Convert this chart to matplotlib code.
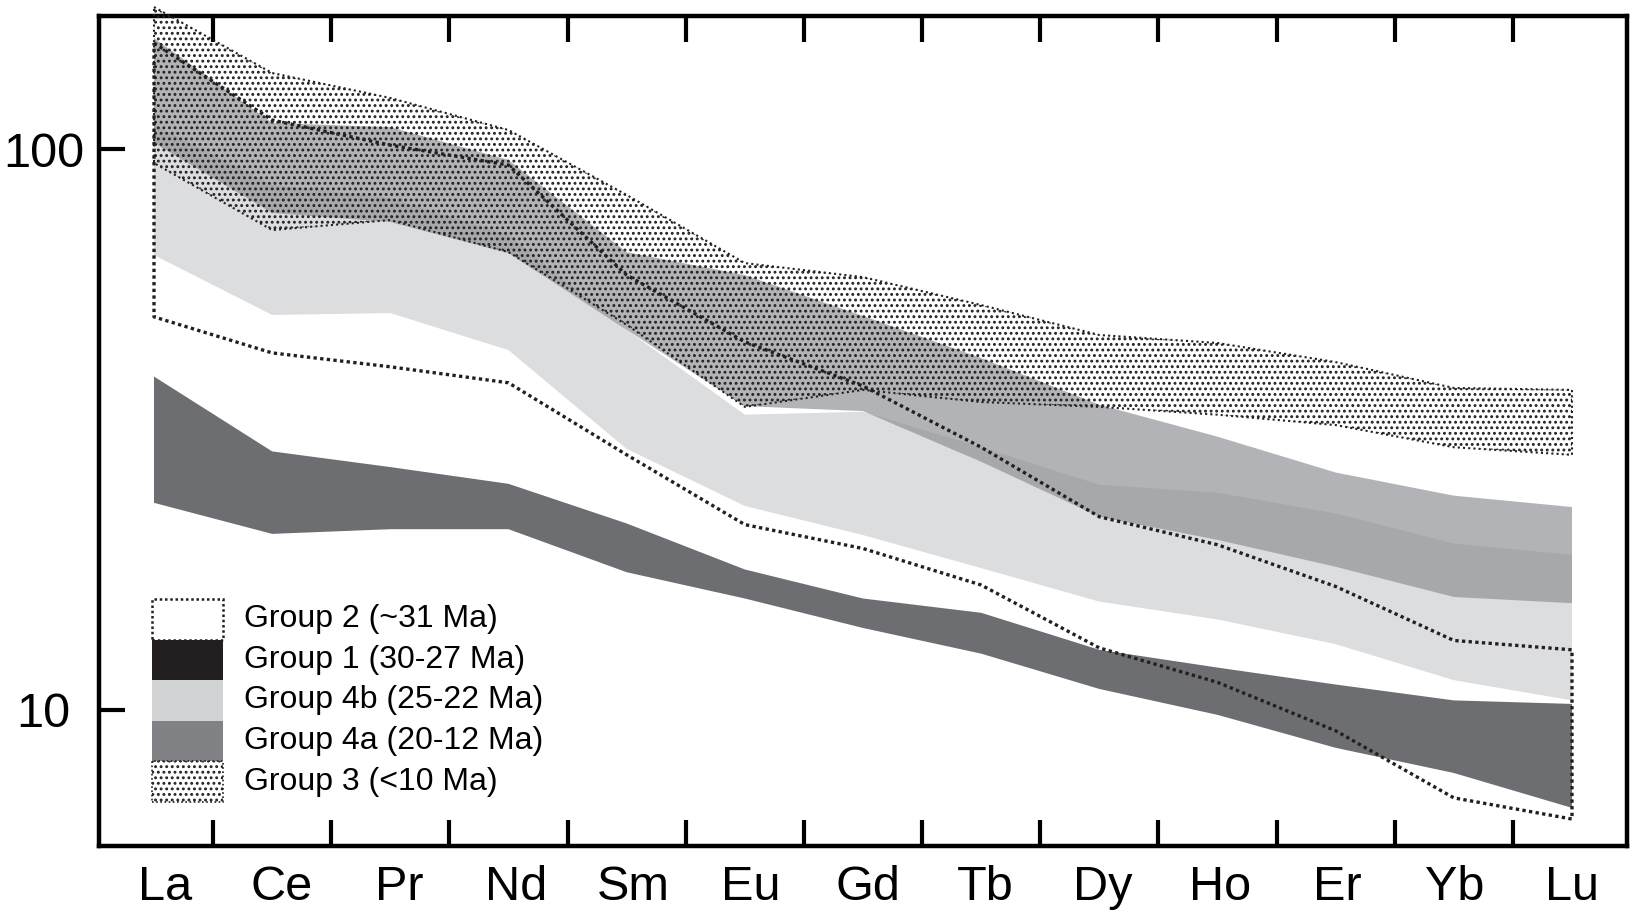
import numpy as np
import matplotlib
matplotlib.use("Agg")
import matplotlib.pyplot as plt
from matplotlib.patches import Rectangle
from matplotlib.ticker import NullLocator

plt.rcParams['font.family'] = ['Liberation Sans', 'DejaVu Sans']
plt.rcParams['hatch.linewidth'] = 1.3
plt.rcParams['hatch.color'] = '#231f20'

elements = ["La", "Ce", "Pr", "Nd", "Sm", "Eu", "Gd", "Tb", "Dy", "Ho", "Er", "Yb", "Lu"]

# chondrite-normalised REE envelopes, upper and lower bounds per group
group2_hi = [154.5, 112.6, 101.6, 93.6, 59.6, 45.3, 37.8, 29.4, 22.1, 19.7, 16.6, 13.3, 12.8]
group2_lo = [50.2, 43.3, 40.9, 38.3, 28.5, 21.4, 19.4, 16.7, 12.9, 11.2, 9.18, 6.97, 6.39]
group1_hi = [39.3, 28.9, 27.1, 25.3, 21.5, 17.8, 15.8, 14.9, 12.8, 11.9, 11.1, 10.4, 10.25]
group1_lo = [23.4, 20.6, 21.0, 21.0, 17.6, 15.8, 14.0, 12.6, 10.9, 9.8, 8.56, 7.72, 6.69]
group4b_hi = [110.4, 86.3, 81.8, 70.3, 47.6, 33.6, 34.0, 29.4, 25.2, 24.4, 22.4, 19.8, 18.9]
group4b_lo = [64.7, 50.6, 51.0, 43.8, 29.2, 23.1, 20.5, 17.9, 15.6, 14.5, 13.1, 11.3, 10.4]
group4a_hi = [157.7, 111.3, 109.4, 95.6, 65.5, 59.6, 50.4, 42.4, 35.0, 30.7, 26.5, 24.1, 23.0]
group4a_lo = [102.5, 76.9, 74.1, 65.2, 47.6, 34.8, 34.1, 27.7, 22.1, 20.1, 18.0, 15.9, 15.5]
group3_hi = [179.1, 136.6, 123.3, 108.1, 82.8, 62.6, 59.1, 52.7, 46.6, 45.1, 41.7, 37.5, 37.2]
group3_lo = [94.4, 71.7, 74.7, 65.5, 48.6, 34.7, 37.2, 35.4, 34.7, 33.6, 32.2, 29.4, 28.5]

legend_labels = ["Group 2 (~31 Ma)", "Group 1 (30-27 Ma)", "Group 4b (25-22 Ma)",
                 "Group 4a (20-12 Ma)", "Group 3 (<10 Ma)"]

x = np.arange(len(elements))


def envelope(hi, lo):
    xs = np.r_[x, x[::-1], x[:1]]
    ys = np.r_[hi, lo[::-1], hi[:1]]
    return xs, ys


fig = plt.figure(figsize=(16.32, 9.22), dpi=100)
ax = fig.add_axes([0.0607, 0.0824, 0.9362, 0.9002])

# filled envelopes
ax.fill_between(x, group4b_lo, group4b_hi, facecolor='#dcdddf', edgecolor='none', zorder=1)
ax.fill_between(x, group4a_lo, group4a_hi, facecolor='#8e9195', alpha=0.69, edgecolor='none', zorder=2)
ax.fill_between(x, group1_lo, group1_hi, facecolor='#6d6e71', edgecolor='none', zorder=3)

# group 2: open envelope with dotted outline
xs, ys = envelope(group2_hi, group2_lo)
ax.plot(xs, ys, color='#231f20', lw=2.4, linestyle=(0, (1, 1.0)), zorder=5)

# group 3: stippled envelope
xs, ys = envelope(group3_hi, group3_lo)
ax.fill(xs, ys, facecolor='none', edgecolor='#231f20', hatch='...', lw=0, zorder=4, clip_on=False)
ax.plot(xs, ys, color='#231f20', lw=1.5, linestyle=(0, (1, 1.5)), zorder=4, clip_on=False)

ax.set_yscale('log')
ax.set_ylim(5.72, 172.6)
ax.set_xlim(-0.465, 12.465)

ax.set_yticks([10, 100])
ax.set_yticklabels(["10", "100"])
ax.yaxis.set_minor_locator(NullLocator())
for lab in ax.get_yticklabels():
    lab.set_horizontalalignment('center')

ax.set_xticks(x + np.linspace(0.09, 0.0, len(elements)))
ax.set_xticklabels(elements)
ax.set_xticks(x[:-1] + 0.5, minor=True)

ax.tick_params(axis='x', which='major', length=0, labelsize=35, pad=14)
ax.tick_params(axis='x', which='minor', direction='in', length=19, width=3,
               top=True, bottom=True)
ax.tick_params(axis='y', which='major', direction='in', length=19, width=3,
               labelsize=35, pad=40)

for sp in ax.spines.values():
    sp.set_linewidth(3.2)

# legend swatches, stacked
legend_colors = ['white', '#231f20', '#d1d3d4', '#808285', 'none']
box_x0, box_w = 0.0347, 0.0465
row_top, row_h = 0.2976, 0.0489
for i, (lab, col) in enumerate(zip(legend_labels, legend_colors)):
    y0 = row_top - (i + 1) * row_h
    if i == 0:
        ax.add_patch(Rectangle((box_x0, y0), box_w, row_h, transform=ax.transAxes,
                               facecolor='white', edgecolor='#231f20', lw=1.8,
                               linestyle=(0, (1, 1.1)), zorder=6))
    elif i == 4:
        ax.add_patch(Rectangle((box_x0, y0), box_w, row_h, transform=ax.transAxes,
                               facecolor='white', edgecolor='#231f20', hatch='...',
                               lw=1.2, linestyle=(0, (1, 1.5)), zorder=6))
    else:
        ax.add_patch(Rectangle((box_x0, y0), box_w, row_h, transform=ax.transAxes,
                               facecolor=col, edgecolor='none', zorder=6))
    ax.text(0.0949, y0 + row_h / 2, lab, transform=ax.transAxes, fontsize=23,
            va='center', ha='left', zorder=6)

fig.savefig("out.png", dpi=100)
